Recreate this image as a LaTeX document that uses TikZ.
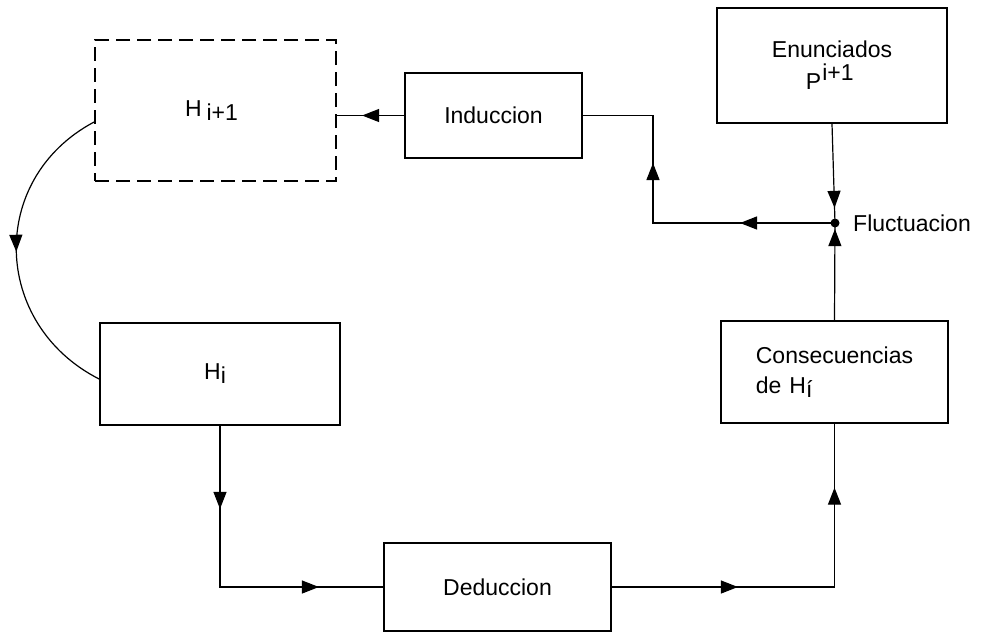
\documentclass[tikz,border=0pt]{standalone}
\usepackage{fontspec}
\setmainfont{Liberation Sans}
\usetikzlibrary{arrows.meta,decorations.markings}
\tikzset{
  box/.style={draw, line width=1.8pt, rectangle, inner sep=0pt, font=\fontsize{23}{30}\selectfont},
  dbox/.style={box, dash pattern=on 14pt off 7pt},
  lbl/.style={inner sep=0pt, font=\fontsize{23}{30}\selectfont},
  conn/.style={line width=1.2pt},
  tipat/.style={postaction={decorate, decoration={markings, mark=at position #1 with {\arrow{Triangle[length=17pt,width=13pt]}}}}},
}
\newcommand{\lowtxt}[1]{\raisebox{-4pt}{#1}}
\begin{document}
\begin{tikzpicture}[x=1pt,y=-1pt]
\useasboundingbox (0,0) rectangle (982,633);
% boxes
\node[dbox, minimum width=241pt, minimum height=141pt] (hip) at (215.5,110.5) {\hspace*{-8pt}H\hspace{5pt}\lowtxt{i+1}};
\node[box, minimum width=177pt, minimum height=85pt] (ind) at (493.5,115.5) {Induccion};
\node[box, minimum width=230pt, minimum height=115pt, align=left] (en) at (832,65.5) {Enunciados\\[2pt]\hspace*{34pt}P\raisebox{9pt}{\hspace{1pt}i+1}};
\node[box, minimum width=227pt, minimum height=102pt, align=left] (cons) at (834.5,372) {Consecuencias\\de\hspace{8pt}H\lowtxt{í}};
\node[box, minimum width=240pt, minimum height=102pt] (hi) at (220,374) {\hspace*{-10pt}\raisebox{-4pt}{H\lowtxt{i}}};
\node[box, minimum width=227pt, minimum height=88pt] (ded) at (497.5,587) {Deduccion};
% fluctuation point
\node[circle, fill, inner sep=0pt, minimum size=9pt] (dot) at (835,223) {};
\node[lbl, anchor=west] (fl) at (853,223) {Fluctuacion};
\coordinate (k1) at (653,223);
% connectors
\draw[conn, tipat=42pt] (ind.west) -- (ind.west -| hip.east);
\draw[conn, tipat=95pt, tipat=242pt] (dot.center) -- (k1) |- (ind.east);
\draw[conn, tipat=84pt] (en.south) -- (dot.center);
\draw[conn, tipat=91pt] (cons.north) -- (dot.center);
\draw[conn, tipat=126pt, tipat=322pt] (ded.east) -| (cons.south);
\draw[conn, tipat=83pt, tipat=260pt] (hi.south) |- (ded.west);
\draw[conn, tipat=0.5] ([yshift=-11.5pt]hip.west) to[out=208, in=153, looseness=1.2] ([yshift=-5pt]hi.west);
\end{tikzpicture}
\end{document}
